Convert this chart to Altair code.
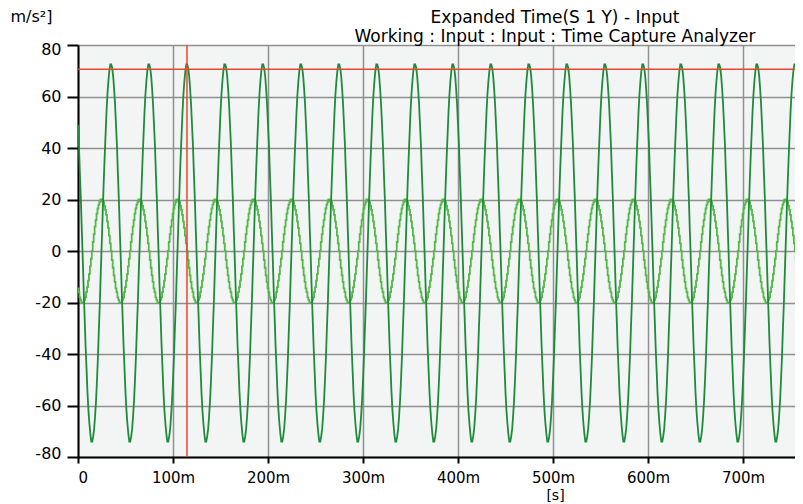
import altair as alt
import pandas as pd

dark_cycle = [49, 41, 30, 20, 8, -3, -15, -26, -37, -46, -55, -62, -67, -71, -74, -74,
              -72, -69, -64, -58, -50, -41, -30, -20, -8, 3, 15, 26, 36, 45, 54, 61,
              66, 70, 72.5, 72.5, 71, 68, 63, 57]
light_cycle = [-14.5, -16, -18, -19, -20, -20, -20, -19, -18, -16, -14, -11.5, -9, -6, -3, 0,
               3.5, 6.5, 9.5, 12, 14.5, 16.5, 18, 19, 20, 20, 19.5, 19, 17.5, 16, 14, 11.5,
               9, 6, 3, 0, -3.5, -6.5, -9.5, -12]
period_ms = 40
n_cycles = 20

x_ticks = [0, 100, 200, 300, 400, 500, 600, 700]
y_ticks = [-80, -60, -40, -20, 0, 20, 40, 60, 80]
cursor_x = [114.7]
cursor_y = [70.6]

title_lines = ["Expanded Time(S 1 Y) - Input",
               "Working : Input : Input : Time Capture Analyzer"]

rows = []
for c in range(n_cycles):
    for k in range(period_ms):
        t = c * period_ms + k
        rows.append({"t": t, "value": dark_cycle[k], "series": "dark"})
        rows.append({"t": t, "value": light_cycle[k], "series": "light"})
df = pd.DataFrame(rows)

FONT = "DejaVu Sans"

x_scale = alt.Scale(domain=[0, 754.7], nice=False, zero=False)
y_scale = alt.Scale(domain=[-80, 80], nice=False)

x_axis = alt.Axis(
    values=x_ticks, title="[s]",
    titleX=477, titleY=42, titleAlign="center", titleBaseline="alphabetic",
    titleFont=FONT, titleFontSize=14, titleFontWeight="normal", titleColor="black",
    labelFont=FONT, labelFontSize=15, labelColor="black",
    labelExpr="datum.value == 0 ? '0' : datum.value + 'm'",
    labelAlign={"condition": {"test": "datum.value === 0", "value": "left"}, "value": "center"},
    labelPadding=7, labelFlush=False, labelOverlap=False,
    tickSize=6, tickColor="black", tickWidth=2,
    domainColor="black", domainWidth=2,
    grid=True, gridColor="#8f8f8f", gridWidth=1.5,
)
y_axis = alt.Axis(
    values=y_ticks, title="m/s²]",
    titleAngle=0, titleX=-68, titleY=-23.5, titleAlign="left", titleBaseline="alphabetic",
    titleFont=FONT, titleFontSize=16, titleFontWeight="normal", titleColor="black",
    labelFont=FONT, labelFontSize=16, labelColor="black",
    labelExpr="'' + datum.value",
    labelPadding=6, labelFlush=True, labelFlushOffset=4, labelOverlap=False,
    tickSize=11, tickColor="black", tickWidth=2,
    domainColor="black", domainWidth=2,
    grid=True, gridColor="#8f8f8f", gridWidth=1.5,
)

base = alt.Chart(df)

light = base.transform_filter("datum.series == 'light'").mark_line(
    color="#52b848", strokeWidth=1.8, interpolate="step", clip=True
).encode(
    x=alt.X("t:Q", scale=x_scale, axis=x_axis),
    y=alt.Y("value:Q", scale=y_scale, axis=y_axis),
)
dark = base.transform_filter("datum.series == 'dark'").mark_line(
    color="#1e8a3c", strokeWidth=1.8, interpolate="linear", clip=True
).encode(
    x=alt.X("t:Q", scale=x_scale, axis=x_axis),
    y=alt.Y("value:Q", scale=y_scale, axis=y_axis),
)
vrule = alt.Chart(pd.DataFrame({"t": cursor_x})).mark_rule(
    color="#e8472e", strokeWidth=1.5
).encode(x=alt.X("t:Q", scale=x_scale, axis=x_axis))
hrule = alt.Chart(pd.DataFrame({"value": cursor_y})).mark_rule(
    color="#e8472e", strokeWidth=1.5
).encode(y=alt.Y("value:Q", scale=y_scale, axis=y_axis))

chart = alt.layer(light, dark, vrule, hrule).properties(
    width=717, height=412,
    title=alt.TitleParams(
        text=title_lines, anchor="start", align="center", dx=477,
        font=FONT, fontSize=17, fontWeight="normal", color="black",
        lineHeight=19, baseline="bottom", offset=-54, frame="group",
    ),
    padding={"left": 70, "top": 37, "right": 0, "bottom": 45},
    autosize=alt.AutoSizeParams(type="none"),
).configure_view(fill="#f3f5f4", strokeWidth=0)

chart.save("out.html", embed_options={"renderer": "svg", "actions": False})
